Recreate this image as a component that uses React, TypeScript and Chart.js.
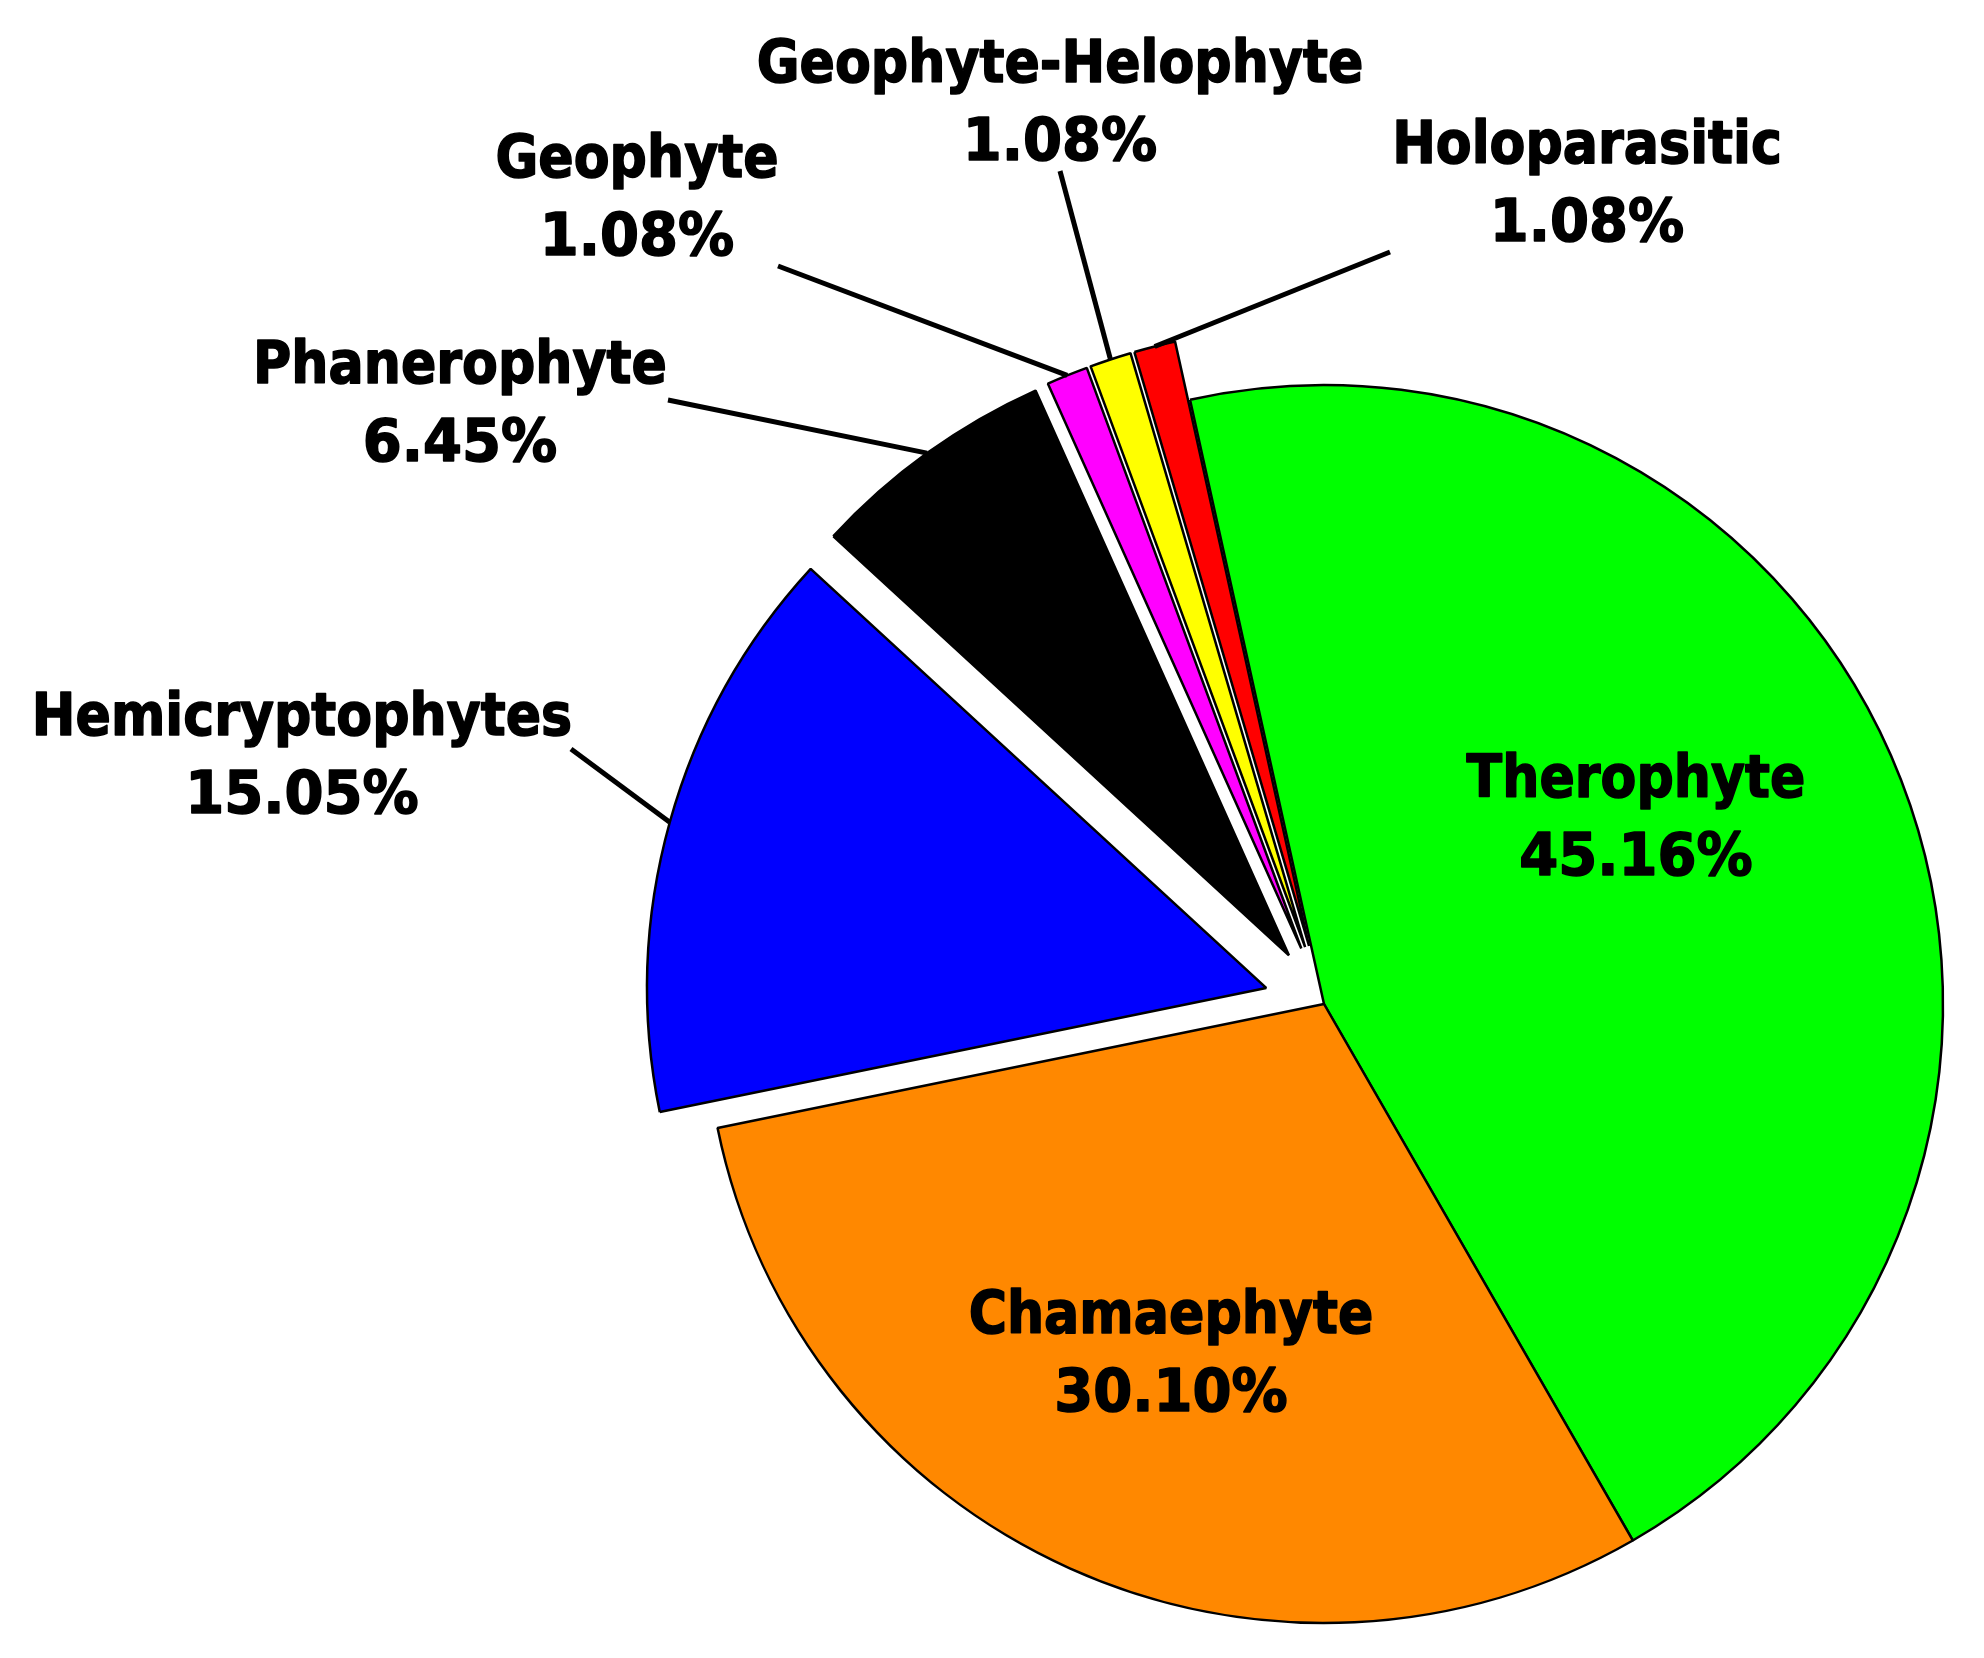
import React, { useEffect, useRef } from "react";
import { Chart, registerables } from "chart.js";

Chart.register(...registerables);

// ---- Data ----
const categories = [
  "Therophyte",
  "Chamaephyte",
  "Hemicryptophytes",
  "Phanerophyte",
  "Geophyte",
  "Geophyte-Helophyte",
  "Holoparasitic",
];
const sharePercent = [45.16, 30.1, 15.05, 6.45, 1.08, 1.08, 1.08];
const sliceColors = ["#00FF00", "#FF8800", "#0000FF", "#000000", "#FF00FF", "#FFFF00", "#FF0000"];

// ---- Layout / style (not data) ----
const W = 1984;
const H = 1658;
const RADIUS = 619;
const ROTATION = -12.5;
const EXPLODE = [0, 0, 60, 60, 60, 60, 60];
const FONT = "bold 59px 'DejaVu Sans'";
const NAME_SCALE = 0.885;
const VALUE_SCALE = 0.95;
const LINE_GAP = 78;

type Lay = { x: number; y: number; from?: [number, number] };
const LABEL_LAYOUT: Lay[] = [
  { x: 1636, y: 797 },
  { x: 1171, y: 1333 },
  { x: 302, y: 735, from: [571, 749] },
  { x: 460, y: 383, from: [668, 400] },
  { x: 637, y: 177, from: [778, 266] },
  { x: 1060, y: 82, from: [1060, 171] },
  { x: 1587, y: 163, from: [1390, 252] },
];

const explodePlugin = {
  id: "explodeSlices",
  afterDatasetUpdate(_chart: any, args: any) {
    const meta = args.meta;
    meta.data.forEach((arc: any, i: number) => {
      const d = EXPLODE[i] || 0;
      if (!d) return;
      const mid = (arc.startAngle + arc.endAngle) / 2;
      arc.x += Math.cos(mid) * d;
      arc.y += Math.sin(mid) * d;
    });
  },
};

function drawScaledText(ctx: CanvasRenderingContext2D, text: string, x: number, y: number, sx: number) {
  ctx.save();
  ctx.translate(x, y);
  ctx.scale(sx, 1);
  ctx.lineWidth = 1.6;
  ctx.lineJoin = "round";
  ctx.strokeText(text, 0, 0);
  ctx.fillText(text, 0, 0);
  ctx.restore();
}

const labelPlugin = {
  id: "sliceLabels",
  afterDatasetsDraw(chart: any) {
    const ctx: CanvasRenderingContext2D = chart.ctx;
    const meta = chart.getDatasetMeta(0);
    ctx.save();
    ctx.strokeStyle = "#000";
    ctx.fillStyle = "#000";
    ctx.font = FONT;
    ctx.textAlign = "center";
    ctx.textBaseline = "alphabetic";
    meta.data.forEach((arc: any, i: number) => {
      const lay = LABEL_LAYOUT[i];
      if (lay.from) {
        const mid = (arc.startAngle + arc.endAngle) / 2;
        const ex = arc.x + Math.cos(mid) * arc.outerRadius;
        const ey = arc.y + Math.sin(mid) * arc.outerRadius;
        ctx.lineWidth = 5;
        ctx.lineCap = "butt";
        ctx.beginPath();
        ctx.moveTo(lay.from[0], lay.from[1]);
        ctx.lineTo(ex, ey);
        ctx.stroke();
      }
      drawScaledText(ctx, categories[i], lay.x, lay.y, NAME_SCALE);
      drawScaledText(ctx, sharePercent[i].toFixed(2) + "%", lay.x, lay.y + LINE_GAP, VALUE_SCALE);
    });
    ctx.restore();
  },
};

export default function App() {
  const ref = useRef<HTMLCanvasElement | null>(null);
  useEffect(() => {
    if (!ref.current) return;
    const chart = new Chart(ref.current, {
      type: "pie",
      data: {
        labels: categories,
        datasets: [
          {
            data: sharePercent,
            backgroundColor: sliceColors,
            borderColor: "#000000",
            borderWidth: 2.5,
            radius: RADIUS,
          } as any,
        ],
      },
      options: {
        responsive: false,
        animation: false,
        devicePixelRatio: 1,
        rotation: ROTATION,
        layout: { padding: { left: 700, right: 36, top: 370, bottom: 20 } },
        plugins: {
          legend: { display: false },
          tooltip: { enabled: false },
          title: { display: false },
        },
      } as any,
      plugins: [explodePlugin, labelPlugin],
    });
    return () => chart.destroy();
  }, []);
  return (
    <div style={{ position: "absolute", left: 0, top: 0, width: W, height: H, background: "#fff" }}>
      <canvas ref={ref} width={W} height={H} style={{ display: "block" }} />
    </div>
  );
}
